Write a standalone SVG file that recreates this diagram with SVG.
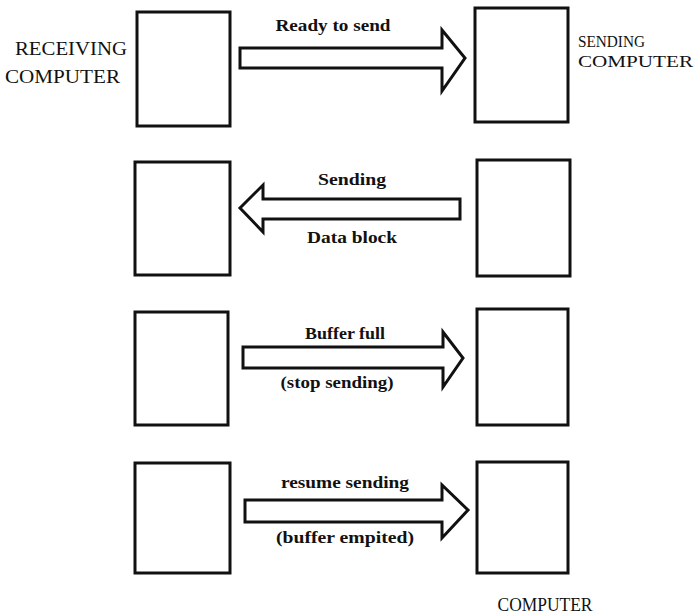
<svg xmlns="http://www.w3.org/2000/svg" width="695" height="616" viewBox="0 0 695 616">
<style>
.box{fill:#fff;stroke:#111;stroke-width:3}
.arr{fill:#fff;stroke:#111;stroke-width:3;stroke-linejoin:miter}
.lbl{font-family:"Liberation Serif","Times New Roman",serif;font-weight:bold;font-size:17px;fill:#111}
.cap{font-family:"Liberation Serif","Times New Roman",serif;font-size:18px;fill:#111}
.cap2{font-family:"Liberation Serif","Times New Roman",serif;font-size:16px;fill:#111}
</style>
<rect width="695" height="616" fill="#fff"/>
<g id="receiving1"><rect class="box" x="137" y="12" width="93" height="114"/>
<text class="cap" x="15" y="55" textLength="112" lengthAdjust="spacingAndGlyphs">RECEIVING</text>
<text class="cap" x="5" y="83" textLength="115" lengthAdjust="spacingAndGlyphs">COMPUTER</text></g>
<g id="sending1"><rect class="box" x="475" y="8" width="93" height="114"/>
<text class="cap2" x="578" y="47" textLength="67" lengthAdjust="spacingAndGlyphs">SENDING</text>
<text class="cap2" x="578" y="67" textLength="115" lengthAdjust="spacingAndGlyphs">COMPUTER</text></g>
<g id="receiving2"><rect class="box" x="135" y="162" width="95" height="113"/></g>
<g id="sending2"><rect class="box" x="477" y="160" width="93" height="116"/></g>
<g id="receiving3"><rect class="box" x="135" y="312" width="93" height="113"/></g>
<g id="sending3"><rect class="box" x="477" y="309" width="91" height="116"/></g>
<g id="receiving4"><rect class="box" x="135" y="463" width="95" height="110"/></g>
<g id="sending4"><rect class="box" x="477" y="462" width="91" height="111"/>
<text class="cap" x="545" y="611" text-anchor="middle" textLength="95" lengthAdjust="spacingAndGlyphs">COMPUTER</text></g>
<g id="connectors">
<path class="arr" d="M240 48 H442 V30 L465 58 L442 91 V68 H240 Z"/>
<text class="lbl" x="333" y="31" text-anchor="middle" textLength="115" lengthAdjust="spacingAndGlyphs">Ready to send</text>
<path class="arr" d="M460 199 H263 V185 L240 208 L263 232 V219 H460 Z"/>
<text class="lbl" x="352" y="185" text-anchor="middle" textLength="68" lengthAdjust="spacingAndGlyphs">Sending</text>
<text class="lbl" x="352" y="243" text-anchor="middle" textLength="90" lengthAdjust="spacingAndGlyphs">Data block</text>
<path class="arr" d="M243 347 H443 V332 L463 358 L443 387 V368 H243 Z"/>
<text class="lbl" x="345" y="339" text-anchor="middle" textLength="80" lengthAdjust="spacingAndGlyphs">Buffer full</text>
<text class="lbl" x="337" y="388" text-anchor="middle" textLength="113" lengthAdjust="spacingAndGlyphs">(stop sending)</text>
<path class="arr" d="M245 500 H442 V485 L468 510 L442 538 V522 H245 Z"/>
<text class="lbl" x="345" y="488" text-anchor="middle" textLength="128" lengthAdjust="spacingAndGlyphs">resume sending</text>
<text class="lbl" x="345" y="543" text-anchor="middle" textLength="138" lengthAdjust="spacingAndGlyphs">(buffer empited)</text>
</g>
</svg>
